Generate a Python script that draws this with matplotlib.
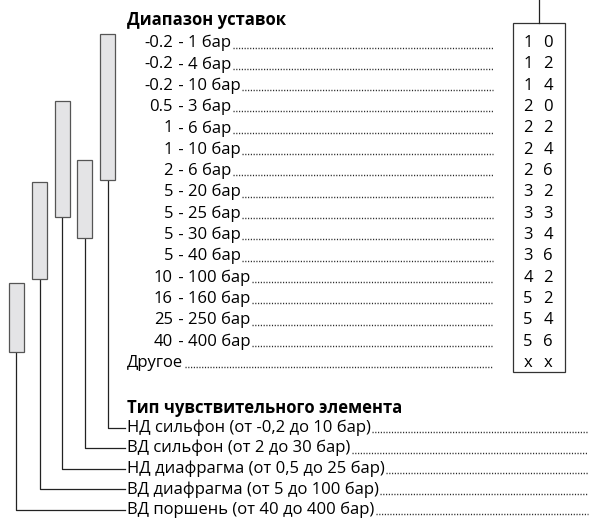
import matplotlib
matplotlib.use("Agg")
import matplotlib.pyplot as plt
from matplotlib.patches import Rectangle

plt.rcParams["font.family"] = ["Open Sans", "DejaVu Sans"]

# setpoint ranges (bar) and their order codes
range_low = ["-0.2", "-0.2", "-0.2", "0.5", "1", "1", "2", "5", "5", "5", "5",
             "10", "16", "25", "40"]
range_high = ["1", "4", "10", "3", "6", "10", "6", "20", "25", "30", "40",
              "100", "160", "250", "400"]
range_codes = ["10", "12", "14", "20", "22", "24", "26", "32", "33", "34", "36",
               "42", "52", "54", "56"]
other_label = "Другое"
other_code = "xx"

# sensing element types
element_names = ["НД сильфон (от -0,2 до 10 бар)",
                 "ВД сильфон (от 2 до 30 бар)",
                 "НД диафрагма (от 0,5 до 25 бар)",
                 "ВД диафрагма (от 5 до 100 бар)",
                 "ВД поршень (от 40 до 400 бар)"]
# span of each element's bar, in setpoint-row units
element_row_from = [-0.4, 5.5, 2.7, 6.5, 11.25]
element_row_to = [6.4, 9.15, 8.15, 11.05, 14.5]

title_ranges = "Диапазон уставок"
title_elements = "Тип чувствительного элемента"

fig = plt.figure(figsize=(5.9, 5.22), dpi=100)
fig.patch.set_facecolor("white")
ax = fig.add_axes([0, 0, 1, 1])
ax.set_xlim(0, 590)
ax.set_ylim(522, 0)
ax.axis("off")

fs = 12
row0, drow = 43, 21.33
elem0, delem = 427.5, 20.6
text_x = 127
dots_end_top, dots_end_bottom = 493, 588


def row_y(i):
    return row0 + drow * i


ax.text(text_x, 20, title_ranges, fontsize=fs, fontweight="bold", va="center")

labels = []
for i, (lo, hi) in enumerate(zip(range_low, range_high)):
    y = row_y(i)
    ax.text(173, y, lo, fontsize=fs, ha="right", va="center")
    t = ax.text(174, y, " - " + hi + " бар", fontsize=fs, ha="left", va="center")
    labels.append((t, y, dots_end_top))
t = ax.text(text_x, row_y(len(range_low)), other_label, fontsize=fs, va="center")
labels.append((t, row_y(len(range_low)), dots_end_top))

# code box
codes = range_codes + [other_code]
ax.add_patch(Rectangle((513, 23), 52, 349, fill=False, edgecolor="#333333", lw=0.9))
ax.plot([539, 539], [0, 23], color="#222222", lw=0.9)
for i, c in enumerate(codes):
    y = row_y(i)
    ax.text(528, y, c[0], fontsize=fs, ha="center", va="center")
    ax.text(548, y, c[1], fontsize=fs, ha="center", va="center")

# sensing elements
ax.text(text_x, 408, title_elements, fontsize=fs, fontweight="bold", va="center")
bar_x = [107.5, 84.5, 62, 39.5, 16]
for k, name in enumerate(element_names):
    y = elem0 + delem * k
    t = ax.text(text_x, y, name, fontsize=fs, va="center")
    labels.append((t, y, dots_end_bottom))
    top = row_y(element_row_from[k])
    bot = row_y(element_row_to[k])
    ax.add_patch(Rectangle((bar_x[k] - 7.5, top), 15, bot - top,
                           facecolor="#e4e4e6", edgecolor="#555555", lw=0.9, zorder=3))
    ax.plot([bar_x[k], bar_x[k], 125], [bot, y, y], color="#222222", lw=0.9)

# dotted leaders
fig.canvas.draw()
inv = ax.transData.inverted()
r = fig.canvas.get_renderer()
for t, y, xend in labels:
    bb = t.get_window_extent(r)
    x1 = inv.transform((bb.x1, 0))[0]
    ax.plot([x1 + 1.5, xend], [y + 4.5, y + 4.5], color="#222222", lw=1.0,
            linestyle=(0, (0.8, 1.2)))

fig.savefig("out.png", dpi=100)
